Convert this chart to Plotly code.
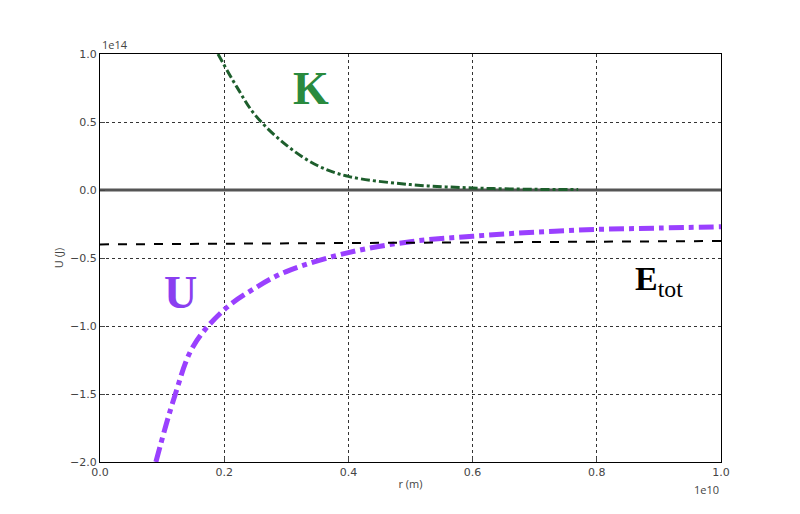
import plotly.graph_objects as go

# values (r in 1e10 m, energy in 1e14 J)
r_u = [0.09, 0.12, 0.15, 0.2, 0.25, 0.3, 0.4, 0.5, 0.6, 0.7, 0.8, 0.9, 1.0]
u_vals = [-2.0, -1.52, -1.15, -0.88, -0.72, -0.6, -0.46, -0.38, -0.34, -0.31, -0.29, -0.28, -0.27]
r_k = [0.19, 0.22, 0.25, 0.3, 0.35, 0.4, 0.5, 0.6, 0.7, 0.77]
k_vals = [1.0, 0.76, 0.55, 0.33, 0.18, 0.10, 0.04, 0.015, 0.005, 0.003]
r_e = [0.0, 1.0]
e_vals = [-0.40, -0.375]

fig = go.Figure()
fig.add_trace(go.Scatter(x=[0, 1], y=[0, 0], mode="lines",
                         line=dict(color="#555555", width=3)))
fig.add_trace(go.Scatter(x=r_k, y=k_vals, mode="lines", line_shape="spline",
                         line=dict(color="#1d5e2c", width=3, dash="dashdot")))
fig.add_trace(go.Scatter(x=r_u, y=u_vals, mode="lines", line_shape="spline",
                         line=dict(color="#9a40ff", width=5, dash="dashdot")))
fig.add_trace(go.Scatter(x=r_e, y=e_vals, mode="lines",
                         line=dict(color="black", width=2, dash="dash")))

ax = dict(showline=True, linecolor="black", linewidth=1, mirror=True, ticks="inside",
          gridcolor="#333333", griddash="dot", zeroline=False,
          tickfont=dict(size=11, color="#444444", family="DejaVu Sans"))
fig.update_xaxes(ax, range=[0, 1], dtick=0.2, tickformat=".1f",
                 title=dict(text="r (m)", font=dict(size=11, color="#444444"), standoff=2))
fig.update_yaxes(ax, range=[-2, 1], dtick=0.5, tickformat=".1f",
                 title=dict(text="U (J)", font=dict(size=11, color="#444444"), standoff=4))

fig.add_annotation(x=0, y=1, xref="x", yref="y", text="1e14", showarrow=False,
                   xanchor="left", yanchor="bottom", font=dict(size=11, color="#444444"))
fig.add_annotation(x=1, y=-2, xref="x", yref="y", text="1e10", showarrow=False,
                   xanchor="right", yanchor="top", yshift=-18, font=dict(size=11, color="#444444"))
serif = "Liberation Serif"
fig.add_annotation(x=0.34, y=0.75, text="<b>K</b>", showarrow=False,
                   font=dict(size=46, color="#2a8a3e", family=serif))
fig.add_annotation(x=0.13, y=-0.75, text="<b>U</b>", showarrow=False,
                   font=dict(size=46, color="#8a3ff0", family=serif))
fig.add_annotation(x=0.9, y=-0.67, text="<b>E</b><sub>tot</sub>", showarrow=False,
                   font=dict(size=34, color="black", family=serif))

fig.update_layout(width=800, height=514, showlegend=False,
                  plot_bgcolor="white", paper_bgcolor="white",
                  margin=dict(l=92, r=87, t=46, b=60))
fig.write_html("out.html")
